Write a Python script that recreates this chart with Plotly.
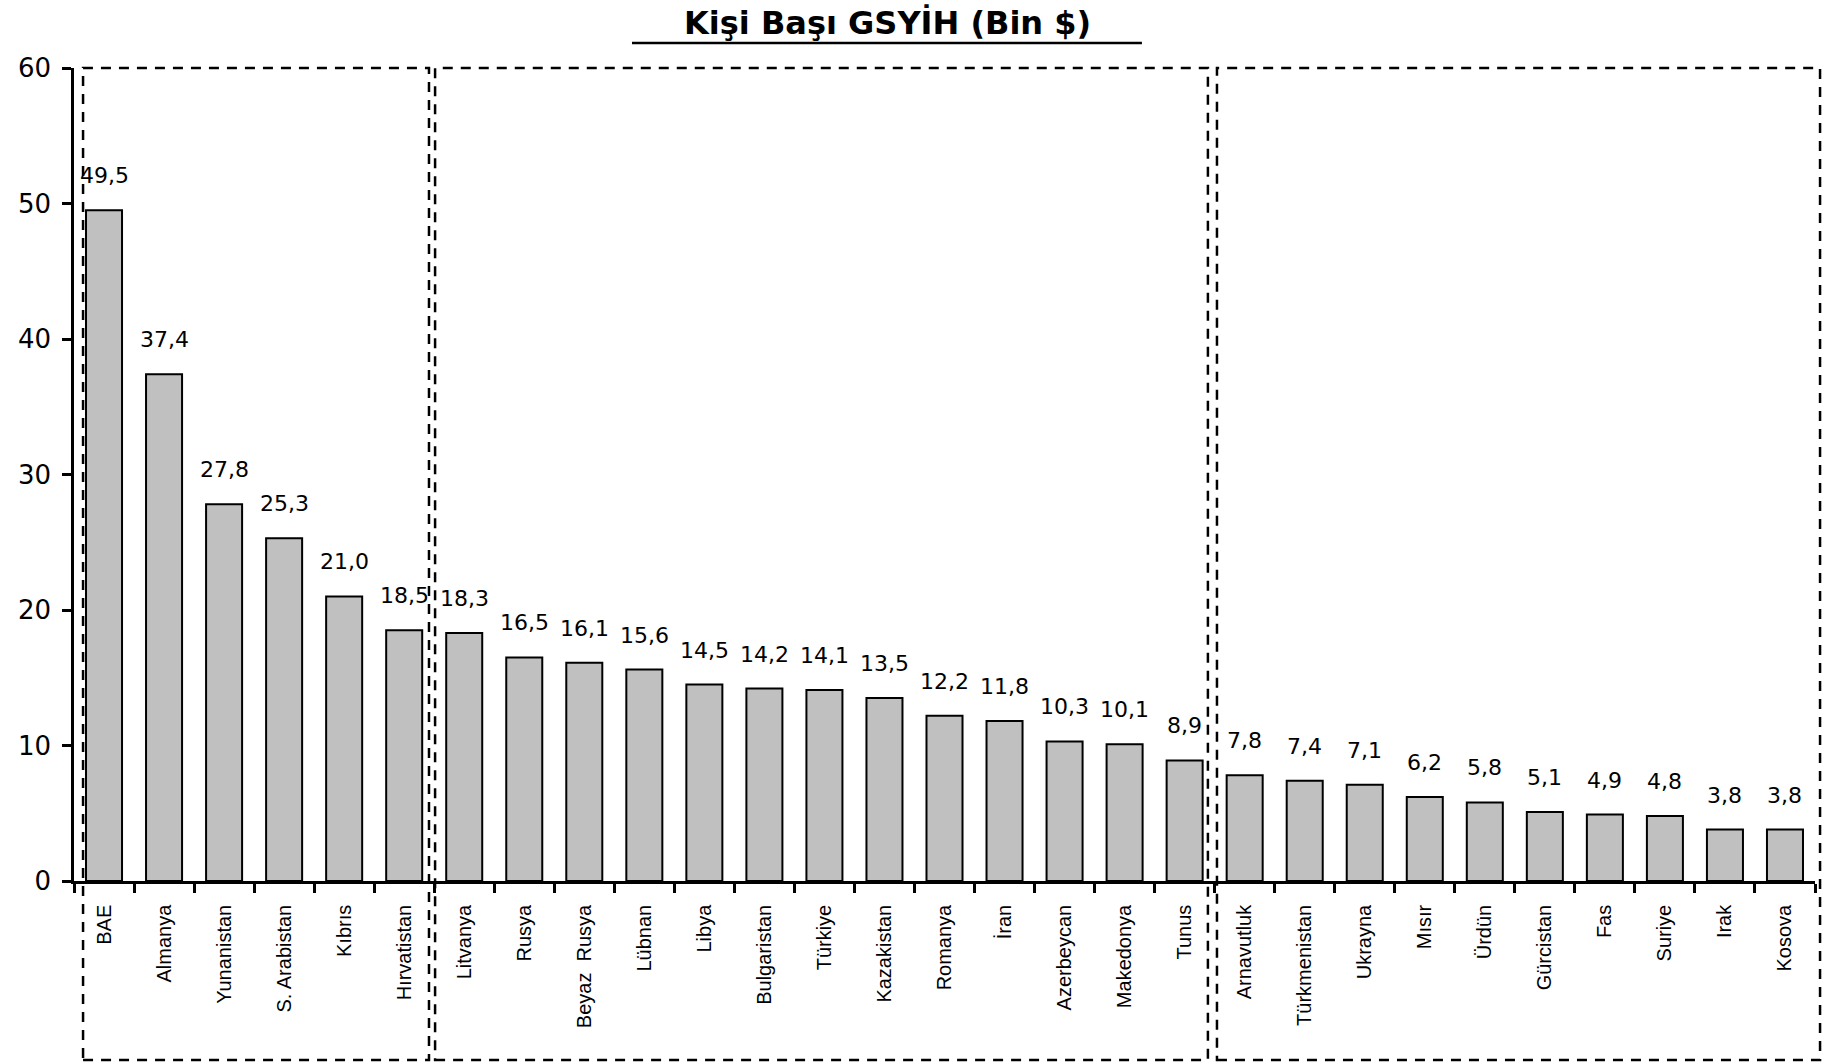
import plotly.graph_objects as go

countries = ["BAE", "Almanya", "Yunanistan", "S. Arabistan", "Kıbrıs", "Hırvatistan",
             "Litvanya", "Rusya", "Beyaz  Rusya", "Lübnan", "Libya", "Bulgaristan", "Türkiye",
             "Kazakistan", "Romanya", "İran", "Azerbeycan", "Makedonya", "Tunus",
             "Arnavutluk", "Türkmenistan", "Ukrayna", "Mısır", "Ürdün", "Gürcistan",
             "Fas", "Suriye", "Irak", "Kosova"]
values = [49.5, 37.4, 27.8, 25.3, 21.0, 18.5,
          18.3, 16.5, 16.1, 15.6, 14.5, 14.2, 14.1, 13.5, 12.2, 11.8, 10.3, 10.1, 8.9,
          7.8, 7.4, 7.1, 6.2, 5.8, 5.1, 4.9, 4.8, 3.8, 3.8]
labels = [f"{v:.1f}".replace(".", ",") for v in values]
title = "Kişi Başı GSYİH (Bin $)"

FONT = "DejaVu Sans, Liberation Sans, sans-serif"
XFONT = "Liberation Sans, Arial, sans-serif"

fig = go.Figure()
fig.add_trace(go.Bar(
    x=countries, y=values,
    marker=dict(color="#C0C0C0", line=dict(color="black", width=2)),
    width=0.6,
    hoverinfo="x+y",
))

annotations = []
for c, v, t in zip(countries, values, labels):
    annotations.append(dict(x=c, y=v, xref="x", yref="y", text=t, showarrow=False,
                            yanchor="bottom", yshift=20,
                            font=dict(family=FONT, size=22, color="black")))
annotations.append(dict(x=0.467, y=1.055, xref="paper", yref="paper", text="<b>" + title + "</b>",
                        showarrow=False, xanchor="center", yanchor="middle",
                        font=dict(family=FONT, size=32, color="black")))

shapes = []
# title underline
shapes.append(dict(type="line", xref="paper", yref="paper", x0=0.3205, x1=0.6134, y0=1.0308, y1=1.0308,
                   line=dict(color="black", width=2.5)))
# dashed group boxes
boxes = [(0.0052, 0.2039), (0.2074, 0.6513), (0.6565, 1.0029)]
for x0, x1 in boxes:
    shapes.append(dict(type="rect", xref="paper", yref="paper", x0=x0, x1=x1, y0=-0.2202, y1=1.0,
                       line=dict(color="black", width=2.5, dash="10px,8px"),
                       fillcolor="rgba(0,0,0,0)"))

fig.update_layout(
    width=1827, height=1064,
    margin=dict(l=74, r=12, t=68, b=183),
    paper_bgcolor="white", plot_bgcolor="white",
    showlegend=False,
    annotations=annotations,
    shapes=shapes,
)
fig.update_xaxes(
    type="category", range=[-0.5, len(countries) - 0.5],
    showline=True, linecolor="black", linewidth=2.5,
    ticks="outside", tickson="boundaries", ticklen=9, tickwidth=2.5, tickcolor="black",
    ticklabelstandoff=13,
    tickangle=-90, tickfont=dict(family=XFONT, size=20, color="black"),
    showgrid=False, zeroline=False,
)
fig.update_yaxes(
    range=[0, 60], dtick=10, tick0=0,
    showline=True, linecolor="black", linewidth=2.5,
    ticks="outside", ticklen=9, tickwidth=2.5, tickcolor="black",
    ticklabelstandoff=6,
    tickfont=dict(family=FONT, size=26, color="black"),
    showgrid=False, zeroline=False,
)

fig.write_html("out.html", config={"displayModeBar": False},
               post_script="document.body.style.margin='0';document.body.style.overflow='hidden';")
